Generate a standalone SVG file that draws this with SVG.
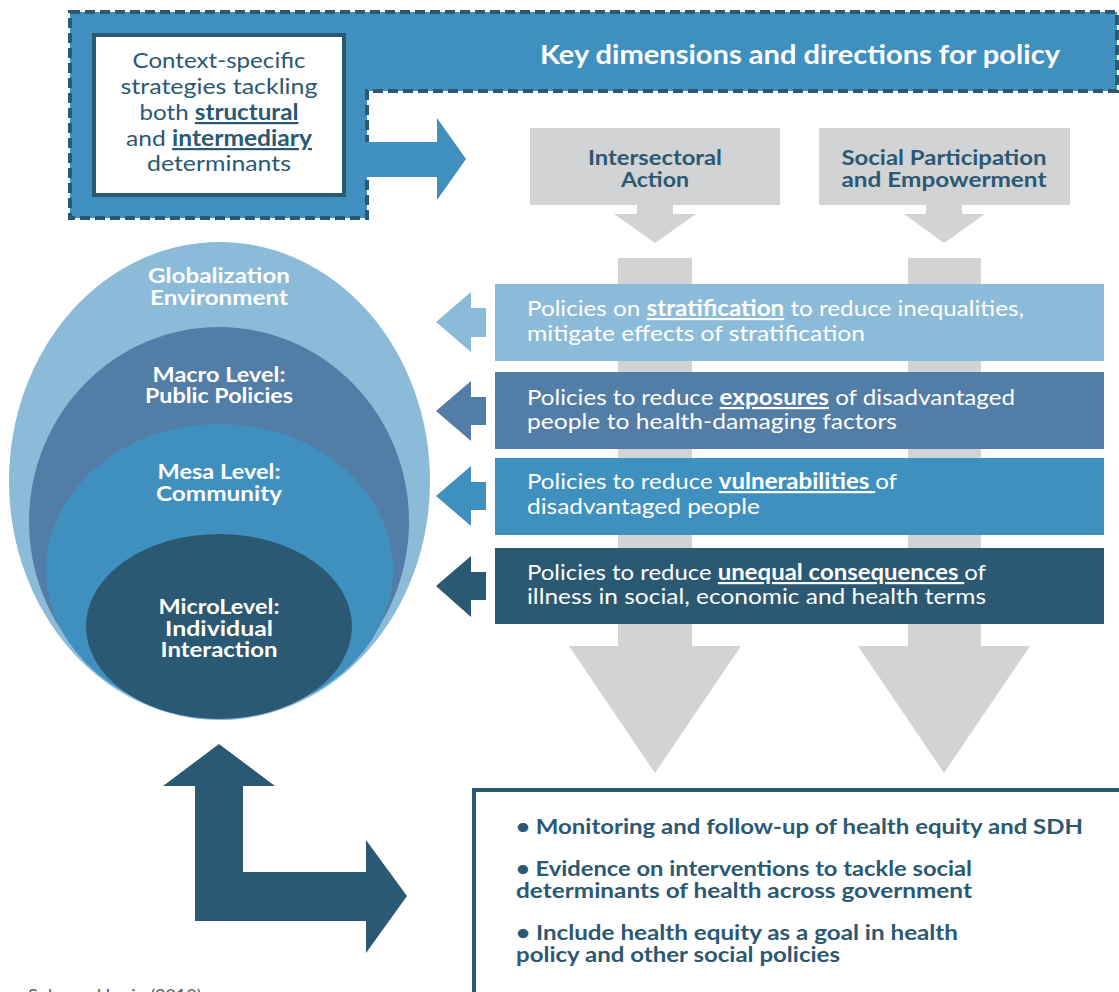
<svg xmlns="http://www.w3.org/2000/svg" width="1119" height="992" viewBox="0 0 1119 992">
<style>
.t{font-family:Lato,"Liberation Sans",sans-serif}
.b{font-weight:bold}
.w{fill:#fff}
.d{fill:#2B5873}
.u{text-decoration:underline}
.gray{fill:#D1D3D4}
</style>
<rect width="1119" height="992" fill="#fff"/>
<g id="header">
<path d="M70,12 H1117 V91 H367 V218 H70 Z" fill="#4090BF" stroke="#2B5873" stroke-width="4" stroke-dasharray="10 5"/>
<text class="t b w" x="800" y="64" font-size="27" text-anchor="middle" textLength="520" lengthAdjust="spacingAndGlyphs">Key dimensions and directions for policy</text>
</g>
<g id="context-box">
<rect x="94" y="35" width="250" height="160" fill="#fff" stroke="#2B5873" stroke-width="4"/>
<g class="t d" font-size="22" text-anchor="middle">
<text x="219" y="68" textLength="173" lengthAdjust="spacingAndGlyphs">Context-specific</text>
<text x="219" y="94" textLength="197" lengthAdjust="spacingAndGlyphs">strategies tackling</text>
<text x="219" y="120" textLength="159" lengthAdjust="spacingAndGlyphs">both <tspan class="b u">structural</tspan></text>
<text x="219" y="146" textLength="186" lengthAdjust="spacingAndGlyphs">and <tspan class="b u">intermediary</tspan></text>
<text x="219" y="171" textLength="144" lengthAdjust="spacingAndGlyphs">determinants</text>
</g>
</g>
<g id="intersectoral">
<rect x="530" y="128" width="250" height="77" class="gray"/>
<g class="t b d" font-size="20" text-anchor="middle">
<text x="655" y="165" textLength="134" lengthAdjust="spacingAndGlyphs">Intersectoral</text>
<text x="655" y="187" textLength="68" lengthAdjust="spacingAndGlyphs">Action</text>
</g>
</g>
<g id="participation">
<rect x="819" y="128" width="251" height="77" class="gray"/>
<g class="t b d" font-size="20" text-anchor="middle">
<text x="944" y="165" textLength="205" lengthAdjust="spacingAndGlyphs">Social Participation</text>
<text x="944" y="187" textLength="205" lengthAdjust="spacingAndGlyphs">and Empowerment</text>
</g>
</g>
<g id="connectors">
<polygon class="gray" points="637,204 673,204 673,214 696,214 655,243 614,214 637,214"/>
<polygon class="gray" points="926,204 962,204 962,214 985,214 944,243 904,214 926,214"/>
<polygon class="gray" points="618,258 692,258 692,646 741,646 655,773 569,646 618,646"/>
<polygon class="gray" points="908,258 981,258 981,646 1030,646 944,773 858,646 908,646"/>
<polygon fill="#4090BF" points="365,142 437,142 437,118 466,159 437,200 437,177 365,177"/>
<polygon fill="#8BBBD9" points="436,322 471,292 471,308 486,308 486,337 471,337 471,352"/>
<polygon fill="#527DA6" points="436,411 471,381 471,397 486,397 486,425 471,425 471,441"/>
<polygon fill="#4090BF" points="436,496 471,466 471,482 486,482 486,510 471,510 471,526"/>
<polygon fill="#2B5873" points="436,586 471,556 471,572 486,572 486,600 471,600 471,617"/>
<polygon fill="#2B5873" points="219,744 275,786 243,786 243,872 366,872 366,840 407,896 366,953 366,921 195,921 195,786 163,786"/>
</g>
<g id="levels">
<ellipse cx="219.5" cy="481" rx="210.5" ry="239" fill="#8BBBD9"/>
<ellipse cx="219" cy="521.5" rx="190" ry="194.5" fill="#527DA6"/>
<ellipse cx="219.5" cy="570" rx="173.5" ry="146" fill="#4090BF"/>
<ellipse cx="219" cy="626.5" rx="133" ry="92.5" fill="#2B5873"/>
<g class="t b w" font-size="20" text-anchor="middle">
<text x="219" y="283" textLength="142" lengthAdjust="spacingAndGlyphs">Globalization</text>
<text x="219" y="305" textLength="138" lengthAdjust="spacingAndGlyphs">Environment</text>
<text x="219" y="382" textLength="133" lengthAdjust="spacingAndGlyphs">Macro Level:</text>
<text x="219" y="403" textLength="148" lengthAdjust="spacingAndGlyphs">Public Policies</text>
<text x="219" y="479" textLength="123" lengthAdjust="spacingAndGlyphs">Mesa Level:</text>
<text x="219" y="501" textLength="126" lengthAdjust="spacingAndGlyphs">Community</text>
<text x="219" y="614" textLength="121" lengthAdjust="spacingAndGlyphs">MicroLevel:</text>
<text x="219" y="636" textLength="108" lengthAdjust="spacingAndGlyphs">Individual</text>
<text x="219" y="657" textLength="117" lengthAdjust="spacingAndGlyphs">Interaction</text>
</g>
</g>
<g id="policy-stratification">
<rect x="495" y="284" width="609" height="77" fill="#8BBBD9"/>
<text class="t w" font-size="22" x="527" y="316" textLength="497" lengthAdjust="spacingAndGlyphs">Policies on <tspan class="b u">stratification</tspan> to reduce inequalities,</text>
<text class="t w" font-size="22" x="527" y="341" textLength="338" lengthAdjust="spacingAndGlyphs">mitigate effects of stratification</text>
</g>
<g id="policy-exposures">
<rect x="495" y="372" width="609" height="77" fill="#527DA6"/>
<text class="t w" font-size="22" x="527" y="405" textLength="488" lengthAdjust="spacingAndGlyphs">Policies to reduce <tspan class="b u">exposures</tspan> of disadvantaged</text>
<text class="t w" font-size="22" x="527" y="429" textLength="370" lengthAdjust="spacingAndGlyphs">people to health-damaging factors</text>
</g>
<g id="policy-vulnerabilities">
<rect x="495" y="458" width="609" height="77" fill="#4090BF"/>
<text class="t w" font-size="22" x="527" y="489" textLength="370" lengthAdjust="spacingAndGlyphs">Policies to reduce <tspan class="b u">vulnerabilities </tspan>of</text>
<text class="t w" font-size="22" x="527" y="514" textLength="233" lengthAdjust="spacingAndGlyphs">disadvantaged people</text>
</g>
<g id="policy-consequences">
<rect x="495" y="548" width="609" height="76" fill="#2B5873"/>
<text class="t w" font-size="22" x="527" y="580" textLength="459" lengthAdjust="spacingAndGlyphs">Policies to reduce <tspan class="b u">unequal consequences </tspan>of</text>
<text class="t w" font-size="22" x="527" y="604" textLength="459" lengthAdjust="spacingAndGlyphs">illness in social, economic and health terms</text>
</g>
<g id="actions-box">
<rect x="474" y="790" width="660" height="220" fill="#fff" stroke="#2B5873" stroke-width="4"/>
<g class="t b d" font-size="20">
<text x="516" y="834" textLength="567" lengthAdjust="spacingAndGlyphs">• Monitoring and follow-up of health equity and SDH</text>
<text x="516" y="876" textLength="456" lengthAdjust="spacingAndGlyphs">• Evidence on interventions to tackle social</text>
<text x="516" y="898" textLength="456" lengthAdjust="spacingAndGlyphs">determinants of health across government</text>
<text x="516" y="940" textLength="442" lengthAdjust="spacingAndGlyphs">• Include health equity as a goal in health</text>
<text x="516" y="962" textLength="324" lengthAdjust="spacingAndGlyphs">policy and other social policies</text>
</g>
</g>
<g id="source">
<text class="t" x="28" y="1002" font-size="18" fill="#58595B">Solar and Irwin (2010)</text>
</g>
</svg>
